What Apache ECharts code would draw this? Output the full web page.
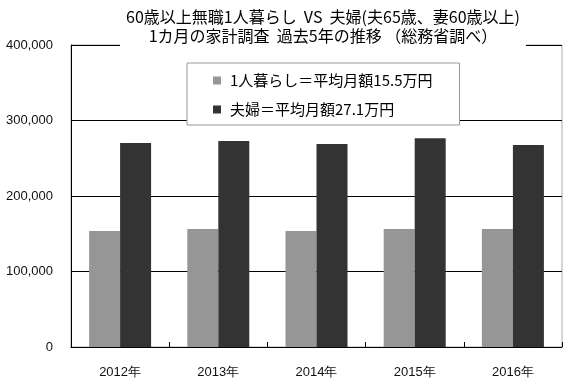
<!DOCTYPE html>
<html>
<head>
<meta charset="utf-8">
<script src="https://cdn.jsdelivr.net/npm/echarts@6/dist/echarts.min.js"></script>
<style>
html,body{margin:0;padding:0;background:#fff;}
#chart{width:567px;height:387px;}
</style>
</head>
<body>
<div id="chart"></div>
<script>
var titleText = '60歳以上無職1人暮らし  VS  夫婦(夫65歳、妻60歳以上)\n1カ月の家計調査  過去5年の推移 （総務省調べ）';
var categories = ['2012年', '2013年', '2014年', '2015年', '2016年'];
var seriesNames = ['1人暮らし＝平均月額15.5万円', '夫婦＝平均月額27.1万円'];
var singleValues = [153600, 156300, 153600, 156300, 156300];
var coupleValues = [270200, 272800, 268900, 276400, 267500];
var yTicks = [0, 100000, 200000, 300000, 400000];

var chart = echarts.init(document.getElementById('chart'), null, {renderer: 'canvas'});
var jp = '"Noto Sans CJK JP", "Liberation Sans", sans-serif';
var lat = '"Liberation Sans", Arial, sans-serif';
chart.setOption({
  animation: false,
  backgroundColor: '#fff',
  title: {
    text: titleText,
    left: 317,
    top: 5,
    textAlign: 'center',
    backgroundColor: '#fff',
    padding: [2, 6, 4, 6],
    z: 10,
    textStyle: {fontFamily: jp, fontSize: 16, fontWeight: 'normal', color: '#000', lineHeight: 19}
  },
  legend: {
    orient: 'vertical',
    left: 187,
    top: 63,
    padding: [10, 27, 8, 26],
    itemGap: 14,
    itemWidth: 8,
    itemHeight: 8,
    icon: 'rect',
    backgroundColor: '#fff',
    borderColor: '#999',
    borderWidth: 1,
    z: 10,
    textStyle: {fontFamily: jp, fontSize: 15, color: '#000', lineHeight: 15, padding: [0, 0, 0, 4]},
    data: seriesNames
  },
  grid: {
    left: 71, right: 5, top: 45, bottom: 40,
    show: true, borderColor: '#aaa', borderWidth: 1
  },
  xAxis: {
    type: 'category',
    data: categories,
    boundaryGap: true,
    axisLine: {lineStyle: {color: '#000', width: 1}},
    axisTick: {show: true, inside: true, length: 5, lineStyle: {color: '#000'}},
    axisLabel: {fontFamily: lat, fontSize: 13, color: '#111', margin: 19}
  },
  yAxis: {
    type: 'value',
    min: yTicks[0],
    max: yTicks[yTicks.length - 1],
    interval: yTicks[1] - yTicks[0],
    axisLine: {show: true, lineStyle: {color: '#000', width: 1}},
    axisTick: {show: false},
    splitLine: {show: true, lineStyle: {color: '#000', width: 1}},
    axisLabel: {
      fontFamily: lat, fontSize: 13, color: '#111', margin: 18,
      formatter: function (v) { return v.toString().replace(/\B(?=(\d{3})+(?!\d))/g, ','); }
    }
  },
  series: [
    {name: seriesNames[0], type: 'bar', data: singleValues, barWidth: 31, barGap: '0%',
     itemStyle: {color: '#969696'}},
    {name: seriesNames[1], type: 'bar', data: coupleValues, barWidth: 31, barGap: '0%',
     itemStyle: {color: '#333333'}}
  ]
});
</script>
</body>
</html>
